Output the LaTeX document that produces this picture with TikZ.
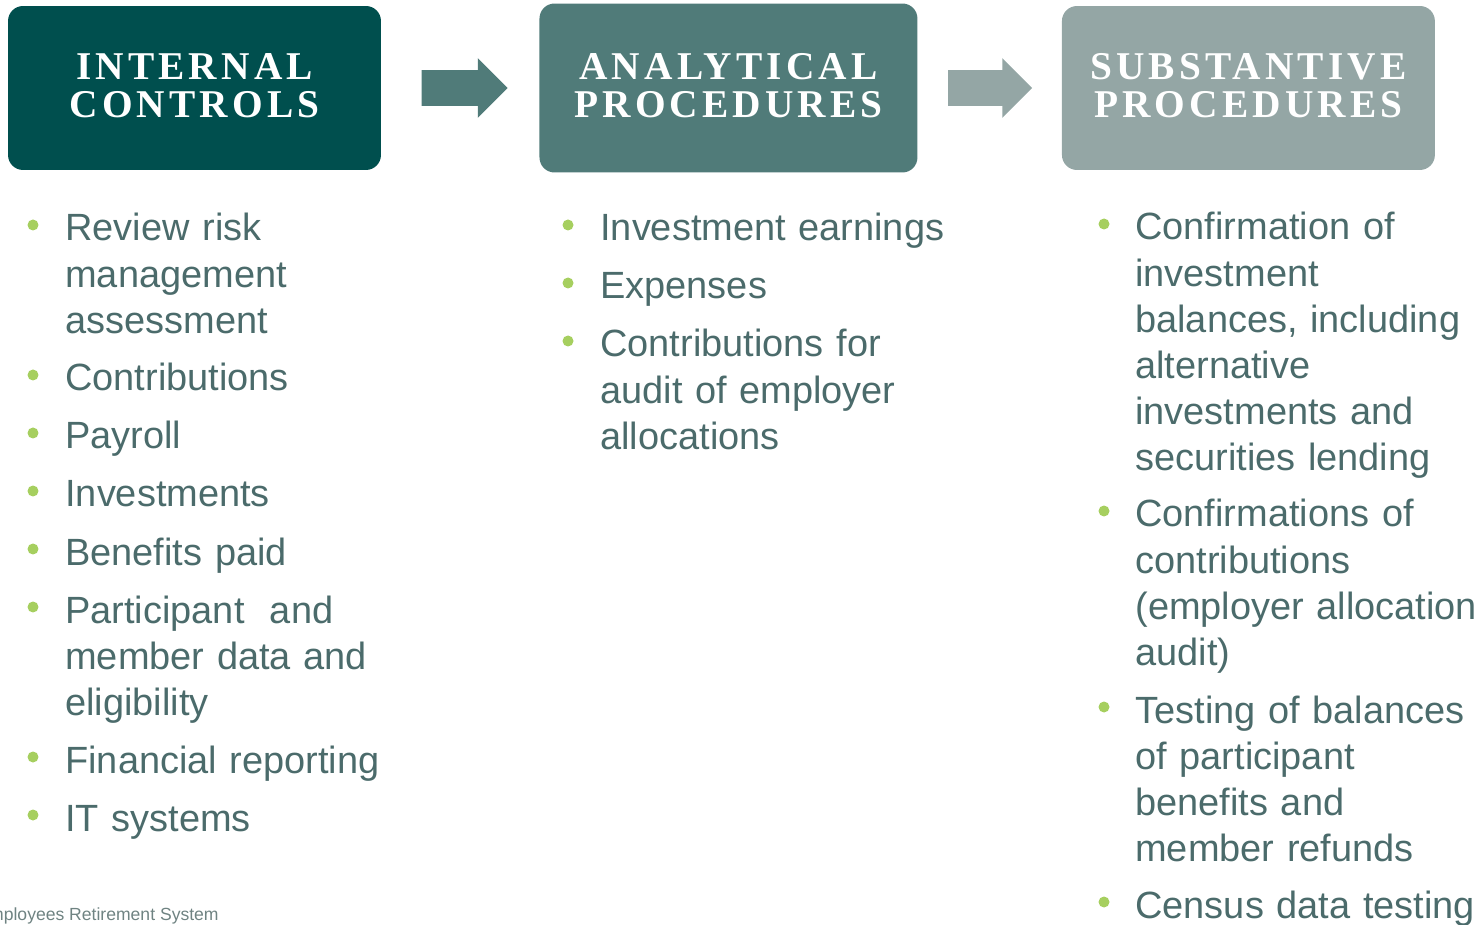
\documentclass[tikz,border=0pt]{standalone}
\usepackage{fontspec}
\setmainfont{Liberation Sans}
\newfontfamily\titrefont[LetterSpace=10.5]{Liberation Serif}
\usetikzlibrary{positioning, shapes.arrows}

\definecolor{vertFonce}{RGB}{0,79,78}
\definecolor{vertMoyen}{RGB}{80,123,121}
\definecolor{grisVert}{RGB}{148,166,165}
\definecolor{texteGris}{RGB}{75,107,107}
\definecolor{puceVerte}{RGB}{166,207,95}
\definecolor{piedGris}{RGB}{111,131,130}

\begin{document}
\begin{tikzpicture}[
		x=0.02cm, y=-0.02cm,
		% bandeaux du haut
		bandeau/.style={rounded corners=0.3cm, minimum width=7.46cm, minimum height=3.28cm, inner sep=0pt, text=white, align=center, text depth=2.9pt, font=\titrefont\bfseries\fontsize{22.4}{21.6}\selectfont},
		fleche/.style={single arrow, single arrow head extend=0.24cm, minimum width=1.18cm, minimum height=1.72cm, inner sep=0.35cm},
		% listes a puces
		entree/.style={anchor=base west, text width=7.2cm, align=left, inner sep=0pt, text=texteGris, font=\fontsize{21.6}{26.2}\selectfont},
		puce/.style={circle, fill=puceVerte, minimum size=0.22cm, inner sep=0pt},
		pied/.style={text=piedGris, inner sep=0pt, font=\fontsize{10}{12}\selectfont},
		]
		
		\useasboundingbox (0,0) rectangle (1484,925);
		\clip (0,0) rectangle (1484,925);
		
		% les trois etapes
		\node[bandeau, fill=vertFonce] (ctrl) at (194.5,88) {INTERNAL\\CONTROLS};
		\node[fleche, fill=vertMoyen, right=0.8cm of ctrl] (f1) {};
		\node[bandeau, fill=vertMoyen, minimum width=7.56cm, minimum height=3.38cm, right=0.62cm of f1] (ana) {ANALYTICAL\\PROCEDURES};
		\node[fleche, fill=grisVert, minimum height=1.68cm, right=0.6cm of ana] (f2) {};
		\node[bandeau, fill=grisVert, right=0.58cm of f2] (subst) {SUBSTANTIVE\\PROCEDURES};
		
		% colonne 1
		\node[entree] (c1a) at (65,241) {Review risk\\management\\assessment};
		\node[entree] (c1b) at (65,391) {Contributions};
		\node[entree] (c1c) at (65,449) {Payroll};
		\node[entree] (c1d) at (65,507) {Investments};
		\node[entree] (c1e) at (65,565) {Benefits paid};
		\node[entree] (c1f) at (65,623) {Participant~ and\\member data and\\eligibility};
		\node[entree] (c1g) at (65,773) {Financial reporting};
		\node[entree] (c1h) at (65,831) {IT systems};
		
		\node[puce] (p1a) at ([shift={(-32,-16)}]c1a.base west) {};
		\node[puce] (p1b) at ([shift={(-32,-16)}]c1b.base west) {};
		\node[puce] (p1c) at ([shift={(-32,-16)}]c1c.base west) {};
		\node[puce] (p1d) at ([shift={(-32,-16)}]c1d.base west) {};
		\node[puce] (p1e) at ([shift={(-32,-16)}]c1e.base west) {};
		\node[puce] (p1f) at ([shift={(-32,-16)}]c1f.base west) {};
		\node[puce] (p1g) at ([shift={(-32,-16)}]c1g.base west) {};
		\node[puce] (p1h) at ([shift={(-32,-16)}]c1h.base west) {};
		
		% colonne 2
		\node[entree] (c2a) at (600,241) {Investment earnings};
		\node[entree] (c2b) at (600,299) {Expenses};
		\node[entree] (c2c) at (600,357) {Contributions for\\audit of employer\\allocations};
		
		\node[puce] (p2a) at ([shift={(-32,-16)}]c2a.base west) {};
		\node[puce] (p2b) at ([shift={(-32,-16)}]c2b.base west) {};
		\node[puce] (p2c) at ([shift={(-32,-16)}]c2c.base west) {};
		
		% colonne 3
		\node[entree] (c3a) at (1135,240) {Confirmation of\\investment\\balances, including\\alternative\\investments and\\securities lending};
		\node[entree] (c3b) at (1135,527) {Confirmations of\\contributions\\(employer allocation\\audit)};
		\node[entree] (c3c) at (1135,723) {Testing of balances\\of participant\\benefits and\\member refunds};
		\node[entree] (c3d) at (1135,918) {Census data testing};
		
		\node[puce] (p3a) at ([shift={(-31,-16)}]c3a.base west) {};
		\node[puce] (p3b) at ([shift={(-31,-16)}]c3b.base west) {};
		\node[puce] (p3c) at ([shift={(-31,-16)}]c3c.base west) {};
		\node[puce] (p3d) at ([shift={(-31,-16)}]c3d.base west) {};
		
		% pied de page
		\node[pied, anchor=base east] (bas) at (219,920) {Employees Retirement System};
		
	\end{tikzpicture}
\end{document}
